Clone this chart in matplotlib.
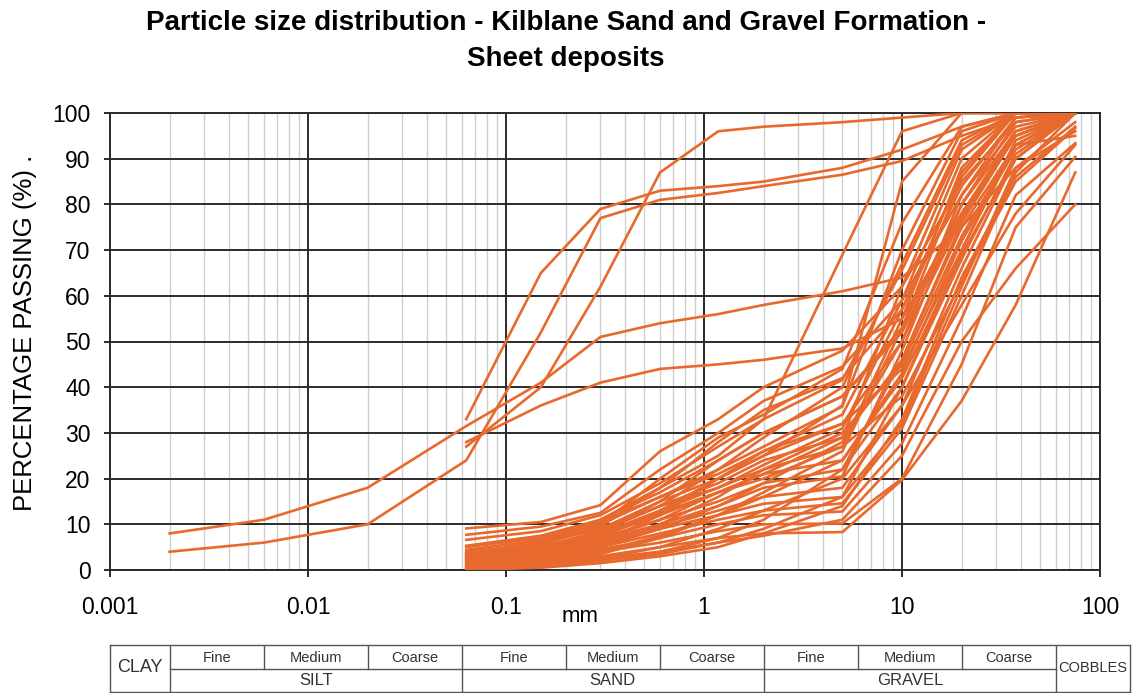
import matplotlib

matplotlib.use("Agg")

import matplotlib.pyplot as plt
from matplotlib.ticker import LogLocator, FixedLocator, NullFormatter

plt.rcParams["font.family"] = ["Liberation Sans", "DejaVu Sans"]

LINE_COLOUR = "#E8692D"

# hydrometer part of the two fine samples (mm)
fine_sizes = [0.002, 0.006, 0.02]
fine_a = [8, 11, 18]
fine_b = [4, 6, 10]

# sieve sizes (mm)
sieves = [0.063, 0.15, 0.3, 0.6, 1.18, 2, 5, 10, 20, 37.5, 75]

# percentage passing at each sieve, one list per sample
sample_a = [31.5, 41, 51, 54, 56, 58, 61, 64, 75, 88, 98]
sample_b = [24, 52, 77, 81, 82.5, 84, 86.5, 89.5, 95, 99, 100]
sample_c = [33, 65, 79, 83, 84, 85, 88, 92, 97, 100, 100]
sample_e = [27, 40, 62, 87, 96, 97, 98, 99, 100, 100, 100]
sample_h = [28, 36, 41, 44, 45, 46, 48.5, 55, 78, 95, 100]
sample_j = [3, 6, 11, 18, 25, 33, 69, 96, 100, 100, 100]

bundle = [
    [9.1, 10.5, 14.2, 26, 33, 40, 48, 62, 85, 98, 100],
    [7.7, 9.5, 12.5, 22, 30, 37, 44.5, 59, 82, 97, 100],
    [6.6, 8.5, 12, 19, 27, 33, 41.6, 65.6, 93, 100, 100],
    [5.3, 7.5, 11, 17, 24, 30, 38, 53, 80, 96, 100],
    [4.4, 6.5, 10, 16, 22, 27, 35.8, 70, 96, 100, 100],
    [3.8, 6, 9, 15, 20, 25, 32, 50, 77, 95, 100],
    [3.5, 5, 8.5, 14, 19, 24, 29, 46, 75, 93, 100],
    [3.2, 5, 8, 13, 18, 22, 27, 55, 88, 100, 100],
    [3.0, 4.5, 7.5, 12, 17, 21, 24, 43, 72, 92, 100],
    [2.8, 4, 7, 11, 15, 19, 22, 40, 70, 94, 100],
    [2.5, 4, 6.5, 10, 14, 18, 20.5, 48, 80, 98, 100],
    [2.3, 3.5, 6, 9.5, 13, 16, 18, 36, 66, 90, 100],
    [2.0, 3.5, 5.5, 9, 12, 14.5, 16, 32, 62, 88, 96],
    [1.8, 3, 5, 8, 11, 13, 14.6, 31, 60, 87, 100],
    [1.5, 2.5, 4.5, 7, 10, 12, 12.8, 27.7, 55, 82, 93.4],
    [1.2, 2, 4, 6, 8.5, 10, 10.2, 20, 45, 75, 90.4],
    [0.8, 1.5, 3, 5, 7, 8, 8.3, 19.7, 37, 58, 87],
    [0.5, 1.2, 2.5, 4, 6, 7.5, 11, 25, 50, 66, 80],
    [4.0, 5.5, 9.5, 18, 28, 35, 42, 57, 84, 99, 100],
    [2.6, 4.5, 8, 15, 24, 30, 38, 52, 78, 96, 100],
    [1.5, 3, 6, 12, 20, 26, 34, 59, 90, 100, 100],
    [1.0, 2.5, 5, 10, 16, 22, 30, 45, 73, 93, 100],
    [3.3, 6, 10, 20, 29, 34, 44, 75.9, 97, 100, 100],
    [2.1, 4, 7, 13, 20, 25, 36, 85, 100, 100, 100],
    [0.3, 1, 2, 3.5, 6, 9, 16, 40, 68, 91, 100],
    [0.2, 0.8, 2, 4, 7, 11, 22, 46, 76, 95, 100],
    [0.0, 0.5, 1.5, 3, 5, 8, 14, 33, 64, 86, 97],
    [0.6, 1.5, 3.5, 7, 12, 17, 26, 53, 86, 100, 100],
    [1.7, 3.5, 6.5, 11, 17, 21, 29, 62, 92, 100, 100],
    [5.0, 7, 10.5, 16, 21, 26, 32, 44, 70, 93, 95],
    [0.4, 1, 2.5, 5, 9, 13, 20, 36, 58, 78, 93],
    [2.9, 5, 8.5, 14, 22, 29, 40, 67, 94, 100, 100],
    [1.3, 2.5, 5, 9, 14, 19, 28, 50, 82, 99, 100],
    [3.6, 6, 9, 14, 18, 23, 31, 57, 87, 100, 100],
    [0.9, 2, 4, 7.5, 12, 16, 24, 42, 69, 90, 100],
    [2.4, 4.5, 7.5, 12.5, 17, 20, 27, 38, 63, 85, 96.7],
]

x_tick_values = [0.001, 0.01, 0.1, 1, 10, 100]
x_tick_labels = ["0.001", "0.01", "0.1", "1", "10", "100"]

# classification boundaries (mm) and labels for the table under the chart
class_bounds = [0.002, 0.006, 0.02, 0.06, 0.2, 0.6, 2, 6, 20, 60]
main_bounds = [0.002, 0.06, 2, 60]
sub_labels = ["Fine", "Medium", "Coarse"] * 3
main_labels = ["SILT", "SAND", "GRAVEL"]

fig = plt.figure(figsize=(11.32, 6.93), dpi=100)
W, H = 1132, 693
ax = fig.add_axes([110 / W, 123 / H, 990 / W, 457 / H])

for x_values, y_values in [
    (fine_sizes + sieves, fine_a + sample_a),
    (fine_sizes + sieves, fine_b + sample_b),
    (sieves, sample_c),
    (sieves, sample_e),
    (sieves, sample_h),
    (sieves, sample_j),
]:
    ax.plot(x_values, y_values, color=LINE_COLOUR, linewidth=1.9, zorder=3)

for values in bundle:
    ax.plot(sieves, values, color=LINE_COLOUR, linewidth=1.9, zorder=3)

ax.set_xscale("log")
ax.set_xlim(0.001, 100)
ax.set_ylim(0, 100)
ax.set_yticks(range(0, 101, 10))
ax.xaxis.set_minor_locator(LogLocator(base=10, subs=range(2, 10), numticks=20))
ax.xaxis.set_minor_formatter(NullFormatter())
ax.set_xticks(x_tick_values, x_tick_labels)

ax.grid(True, which="major", axis="both", color="#2b2b2b", linewidth=1.4, zorder=1)
ax.grid(True, which="minor", axis="x", color="#cfcfcf", linewidth=1.0, zorder=0)
ax.set_axisbelow(True)
for spine in ax.spines.values():
    spine.set_color("#2b2b2b")
    spine.set_linewidth(1.4)

ax.tick_params(axis="x", which="major", length=5, width=1.4, color="#2b2b2b", labelsize=16.5, pad=14)
ax.tick_params(axis="x", which="minor", length=0)
ax.tick_params(axis="y", length=4, width=1.4, color="#2b2b2b", labelsize=16.5, pad=10)

fig.text(580 / W, 1 - 617 / H, "mm", ha="center", va="center", fontsize=16)
fig.text(
    25 / W,
    1 - 333 / H,
    "PERCENTAGE PASSING (%) .",
    rotation=90,
    ha="center",
    va="center",
    fontsize=18.5,
)

fig.text(
    0.5,
    1 - 41 / H,
    "Particle size distribution - Kilblane Sand and Gravel Formation -\nSheet deposits",
    ha="center",
    va="center",
    fontsize=20,
    fontweight="bold",
    linespacing=1.55,
)

# classification table, same log scale as the chart but extended to the right
table_right = 100 * 10 ** (30 / 198)
tab = fig.add_axes([110 / W, 1 / H, 1020 / W, 47 / H])
tab.set_xscale("log")
tab.set_xlim(0.001, table_right)
tab.set_ylim(0, 2)
tab.set_xticks([])
tab.set_yticks([])
tab.xaxis.set_minor_locator(FixedLocator([]))
for spine in tab.spines.values():
    spine.set_color("#555555")
    spine.set_linewidth(1.0)

line_kw = dict(color="#555555", linewidth=1.0)
tab.plot([class_bounds[0], class_bounds[-1]], [1, 1], **line_kw)
for bound in class_bounds:
    y_low = 0 if bound in main_bounds else 1
    tab.plot([bound, bound], [y_low, 2], **line_kw)

for left, right, label in zip(class_bounds[:-1], class_bounds[1:], sub_labels):
    centre = (left * right) ** 0.5
    tab.text(centre, 1.45, label, ha="center", va="center", fontsize=10.5, color="#333333")
for left, right, label in zip(main_bounds[:-1], main_bounds[1:], main_labels):
    centre = (left * right) ** 0.5
    tab.text(centre, 0.5, label, ha="center", va="center", fontsize=12, color="#333333")
tab.text((0.001 * class_bounds[0]) ** 0.5, 1.05, "CLAY", ha="center", va="center", fontsize=13, color="#333333")
tab.text((class_bounds[-1] * table_right) ** 0.5, 1.0, "COBBLES", ha="center", va="center", fontsize=10.5, color="#333333")

fig.savefig("out.png", dpi=100)
